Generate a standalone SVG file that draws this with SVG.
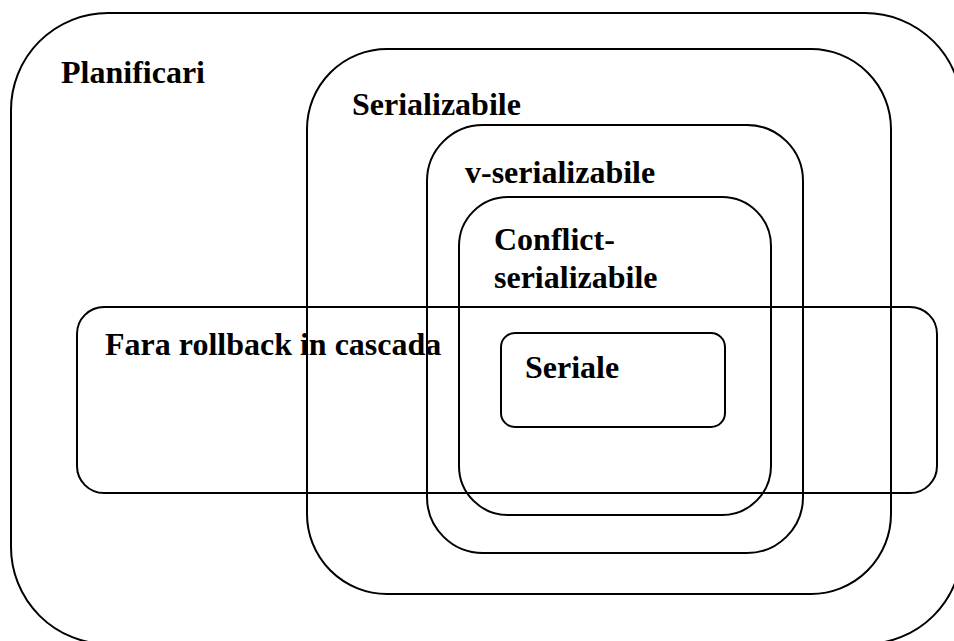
<svg xmlns="http://www.w3.org/2000/svg" width="954" height="641" viewBox="0 0 954 641">
<style>
.box{fill:none;stroke:#000;stroke-width:2}
.lbl{font-family:"Liberation Serif","Times New Roman",serif;font-weight:bold;font-size:32px;fill:#000}
</style>
<rect width="954" height="641" fill="#fff"/>
<g id="planificari">
<rect class="box" x="11" y="13" width="951" height="631" rx="97" ry="97"/>
<text class="lbl" x="61" y="83">Planificari</text>
</g>
<g id="serializabile">
<rect class="box" x="307" y="49" width="584" height="545" rx="80" ry="80"/>
<text class="lbl" x="352" y="115">Serializabile</text>
</g>
<g id="v-serializabile">
<rect class="box" x="427" y="125" width="376" height="428" rx="56" ry="56"/>
<text class="lbl" x="465" y="183">v-serializabile</text>
</g>
<g id="conflict-serializabile">
<rect class="box" x="459" y="197" width="312" height="318" rx="49" ry="49"/>
<text class="lbl" x="494" y="250">Conflict-</text>
<text class="lbl" x="494" y="288">serializabile</text>
</g>
<g id="fara-rollback">
<rect class="box" x="77" y="307" width="860" height="186" rx="27" ry="27"/>
<text class="lbl" x="105" y="355">Fara rollback in cascada</text>
</g>
<g id="seriale">
<rect class="box" x="501" y="333" width="224" height="94" rx="14" ry="14"/>
<text class="lbl" x="525" y="378">Seriale</text>
</g>
<g id="connectors"></g>
</svg>
